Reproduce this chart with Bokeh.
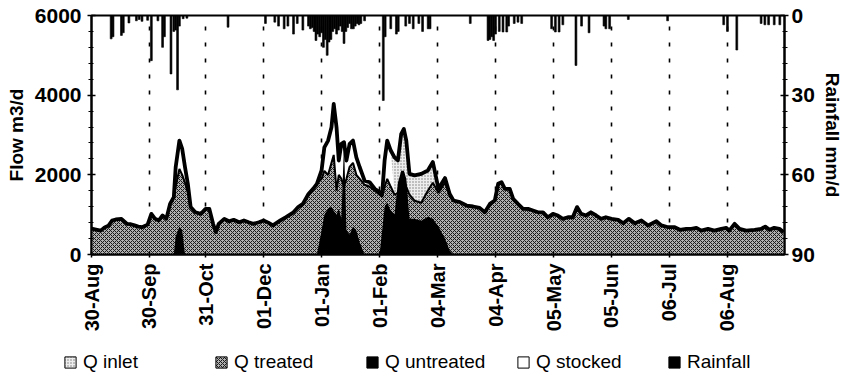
import math
from bokeh.plotting import figure
from bokeh.layouts import column
from bokeh.models import (ColumnDataSource, Range1d, LinearAxis, FixedTicker,
                          Legend, LegendItem, Plot)
from bokeh.embed import file_html
from bokeh.resources import INLINE

# ---------------- data (day index from 30-Aug) ----------------
day = [0, 3, 5, 7, 9, 11, 13, 16, 19, 21, 23, 25, 27, 30, 32, 34, 36, 38, 40, 42,
       44, 45, 47, 48.5, 50, 51.5, 53, 55.5, 58.5, 61, 63, 65, 66.5, 68, 71, 73.5,
       76, 79, 81.5, 84, 86.5, 89.5, 92, 94.5, 97, 101, 104, 108, 110.5, 113, 116,
       118.5, 120.5, 123, 124.5, 126.5, 128.3, 129.5, 131, 132.2, 133.6, 135, 136.3,
       138, 139.8, 141.6, 143.4, 146, 148.7, 151.4, 154, 155.4, 156.7, 158.1, 160,
       162, 163.8, 165.6, 167, 168.3, 170, 172.7, 176.3, 179.8, 182.5, 185.5, 189,
       191.5, 193.5, 197, 200.5, 204, 207.5, 210.3, 213, 215.6, 217.4, 219.2, 221,
       223.6, 225.4, 228, 230.7, 233.4, 236, 238.7, 241.4, 244, 246.7, 249.3, 252,
       254.7, 257.3, 259.6, 261.8, 264.4, 267, 269.8, 272.4, 275, 278, 281.6, 284.3,
       287.3, 290.5, 294, 297.6, 302, 304.7, 308.3, 311.8, 314.5, 318, 320.7, 323.4,
       326, 329.6, 333, 336.7, 339.4, 341, 343.8, 346.5, 350, 354.5, 358, 360.2,
       362.5, 365, 367.8, 370]

q_inlet = [650, 620, 600, 680, 720, 850, 880, 895, 770, 760, 730, 700, 685, 750, 1020, 895, 855, 980, 895, 1270,
           1440, 2190, 2860, 2650, 2190, 1775, 1190, 1060, 1020, 1145, 1145, 770, 560, 770, 895, 835,
           870, 810, 855, 810, 770, 810, 855, 800, 730, 855, 940, 1060, 1190, 1270, 1520,
           1650, 1775, 2110, 2690, 2860, 3195, 3780, 3195, 2360, 2780, 2820, 2360,
           2780, 2860, 2440, 2190, 1855, 1815, 1650, 1565, 1520, 2360, 2860, 2610,
           2440, 2360, 3030, 3150, 2860, 2025, 1985, 2025, 2110, 2320, 1650, 1920,
           1520, 1355, 1315, 1230, 1205, 1170, 1060, 1270, 1355, 1775, 1815, 1650,
           1650, 1400, 1270, 1145, 1145, 1105, 1060, 1060, 935, 1020, 980, 895,
           935, 935, 1190, 1020, 980, 1060, 980, 895, 935, 895, 870, 785,
           895, 785, 855, 730, 835, 730, 685, 685, 620, 645, 645, 670,
           600, 645, 600, 645, 670, 600, 770, 645, 600, 620, 645, 700,
           620, 670, 645, 560]

q_treated = [650, 620, 600, 680, 720, 850, 880, 895, 770, 760, 730, 700, 685, 750, 1020, 895, 855, 980, 895, 1270,
             1440, 1700, 2150, 2000, 1800, 1550, 1190, 1060, 1020, 1145, 1145, 770, 560, 770, 895, 835,
             870, 810, 855, 810, 770, 810, 855, 800, 730, 855, 940, 1060, 1190, 1270, 1520,
             1650, 1775, 1900, 2100, 2000, 2300, 2500, 1600, 2000, 1900, 1700, 1900,
             2200, 2300, 2000, 1900, 1750, 1700, 1600, 1500, 1450, 1700, 1900, 1700,
             1500, 1550, 1800, 1900, 1700, 1500, 1350, 1300, 1600, 1800, 1550, 1800,
             1500, 1355, 1315, 1230, 1205, 1170, 1060, 1270, 1355, 1775, 1815, 1650,
             1650, 1400, 1270, 1145, 1145, 1105, 1060, 1060, 935, 1020, 980, 895,
             935, 935, 1190, 1020, 980, 1060, 980, 895, 935, 895, 870, 785,
             895, 785, 855, 730, 835, 730, 685, 685, 620, 645, 645, 670,
             600, 645, 600, 645, 670, 600, 770, 645, 600, 620, 645, 700,
             620, 670, 645, 560]

q_untreated = [0, 0, 0, 0, 0, 0, 0, 0, 0, 0, 0, 0, 0, 0, 0, 0, 0, 0, 0, 0,
               0, 450, 700, 600, 0, 0, 0, 0, 0, 0, 0, 0, 0, 0, 0, 0,
               0, 0, 0, 0, 0, 0, 0, 0, 0, 0, 0, 0, 0, 0, 0,
               0, 0, 600, 1000, 1150, 1200, 1100, 1000, 1150, 900, 2800, 600,
               500, 700, 600, 300, 0, 0, 0, 0, 600, 1200, 1300, 1100,
               1000, 1800, 2100, 2100, 1900, 900, 900, 850, 950, 900, 700, 400,
               100, 0, 0, 0, 0, 0, 0, 0, 0, 0, 0, 0,
               0, 0, 0, 0, 0, 0, 0, 0, 0, 0, 0, 0,
               0, 0, 0, 0, 0, 0, 0, 0, 0, 0, 0, 0,
               0, 0, 0, 0, 0, 0, 0, 0, 0, 0, 0, 0,
               0, 0, 0, 0, 0, 0, 0, 0, 0, 0, 0, 0,
               0, 0, 0, 0]

q_stocked = [0, 0, 0, 0, 0, 0, 0, 0, 0, 0, 0, 0, 0, 0, 0, 0, 0, 0, 0, 0,
             0, 2190, 2860, 2650, 2190, 1700, 0, 0, 0, 0, 0, 0, 0, 0, 0, 0,
             0, 0, 0, 0, 0, 0, 0, 0, 0, 0, 0, 0, 0, 0, 0,
             0, 0, 2110, 2690, 2860, 3195, 3780, 3195, 2360, 2780, 2820, 2360,
             2780, 2860, 2440, 2190, 1855, 0, 0, 0, 1520, 2360, 2860, 2610,
             1500, 0, 0, 0, 0, 0, 0, 0, 0, 0, 0, 0,
             0, 0, 0, 0, 0, 0, 0, 0, 0, 0, 0, 0,
             0, 0, 0, 0, 0, 0, 0, 0, 0, 0, 0, 0,
             0, 0, 0, 0, 0, 0, 0, 0, 0, 0, 0, 0,
             0, 0, 0, 0, 0, 0, 0, 0, 0, 0, 0, 0,
             0, 0, 0, 0, 0, 0, 0, 0, 0, 0, 0, 0,
             0, 0, 0, 0]

rain_day = [10.5, 11.5, 16, 17, 20, 24, 25.5, 27, 30, 32, 35.5, 38, 39, 42.5, 44, 45, 46, 47, 49, 51,
            73, 93, 98, 100, 103, 105, 108, 110, 113, 116, 117, 118, 119, 120, 121, 122, 123, 124,
            125, 126, 127, 128, 129, 130, 131, 132, 133, 134, 135, 136, 137, 138, 139, 140, 141,
            142, 143, 144, 146, 156, 157, 160, 163, 164, 168, 170, 172, 175, 177, 180, 181,
            202.5, 212, 213, 214, 215, 216, 218, 220, 222, 223, 226, 228, 230, 246, 248, 250, 252,
            259, 262, 266, 274, 275, 277, 287, 308, 338, 340, 345, 358, 360, 362, 365, 368]
rain_mm = [8.8, 8.0, 7.5, 6.5, 2.8, 2.0, 1.5, 2.2, 1.8, 17.0, 2.0, 12.0, 8.0, 22.0, 6.0, 5.5, 28.0, 4.0, 1.2, 1.0,
           4.4, 3.0, 2.5, 4.0, 5.0, 4.0, 7.0, 3.0, 5.5, 4.0, 5.0, 4.5, 6.0, 9.4, 7.0, 8.0, 6.5, 12.0,
           9.0, 15.0, 10.0, 9.0, 6.0, 5.0, 7.0, 5.5, 4.0, 6.0, 10.5, 6.0, 4.5, 3.0, 5.0, 5.0, 4.0,
           3.0, 3.5, 3.0, 2.0, 32.0, 8.0, 5.0, 7.0, 6.0, 4.0, 3.0, 5.0, 3.0, 6.0, 5.0, 5.0,
           3.0, 9.4, 9.0, 8.0, 9.4, 7.0, 6.0, 6.2, 6.2, 4.0, 3.0, 2.5, 3.0, 5.0, 6.2, 6.2, 3.5,
           18.8, 4.0, 6.5, 4.0, 5.0, 5.0, 1.5, 2.0, 3.5, 6.0, 13.0, 3.0, 3.5, 3.5, 3.5, 3.5]

tick_days = [0, 31, 61, 92, 123, 154, 185, 216, 247, 278, 309, 340]
tick_labels = ["30-Aug", "30-Sep", "31-Oct", "01-Dec", "01-Jan", "01-Feb",
               "04-Mar", "04-Apr", "05-May", "05-Jun", "06-Jul", "06-Aug"]
flow_ticks = [0, 2000, 4000, 6000]
rain_ticks = [0, 30, 60, 90]
legend_labels = ["Q inlet", "Q treated", "Q untreated", "Q stocked", "Rainfall"]

# ---------------- main figure ----------------
FONT = "Liberation Sans"
CAN_UNALIGN = "frame_align" in Plot.properties()

src = ColumnDataSource(dict(day=day, inlet=q_inlet, treated=q_treated,
                            untreated=q_untreated, stocked=q_stocked,
                            zero=[0] * len(day)))
rsrc = ColumnDataSource(dict(x=rain_day, top=rain_mm))

p = figure(width=845, height=340, output_backend="svg", toolbar_location=None,
           x_range=Range1d(0, 370.5), y_range=Range1d(0, 6000),
           min_border_left=91, min_border_right=58, min_border_top=15,
           min_border_bottom=86)
if CAN_UNALIGN:
    p.frame_align = False
p.extra_y_ranges = {"rain": Range1d(90, 0)}
p.background_fill_color = "white"
p.border_fill_color = "white"
p.outline_line_color = "black"
p.outline_line_width = 2
p.ygrid.visible = False
p.xgrid.ticker = FixedTicker(ticks=tick_days)
p.xgrid.grid_line_color = "black"
p.xgrid.grid_line_width = 1.6
p.xgrid.grid_line_dash = "4 12"

inlet_kw = dict(fill_color="#eeeeee", hatch_pattern=".", hatch_scale=3,
                hatch_color="#777777", hatch_weight=1)
treated_kw = dict(fill_color="#b0b0b0", hatch_pattern="x", hatch_scale=4,
                  hatch_color="#1a1a1a", hatch_weight=1)
p.varea(x="day", y1="zero", y2="inlet", source=src, **inlet_kw)
p.varea(x="day", y1="zero", y2="stocked", source=src, fill_color="white")
p.varea(x="day", y1="zero", y2="treated", source=src, **treated_kw)
p.varea(x="day", y1="zero", y2="untreated", source=src, fill_color="black")
p.line(x="day", y="treated", source=src, line_color="black", line_width=2)
p.line(x="day", y="inlet", source=src, line_color="black", line_width=3.8,
       line_join="round")

# rainfall bars hanging from the top
p.vbar(x="x", top="top", bottom=0, width=1.0, source=rsrc, y_range_name="rain",
       fill_color="black", line_color="black", line_width=0.6)


def style_axis(ax):
    ax.axis_line_color = "black"
    ax.axis_line_width = 2
    ax.major_tick_line_color = "black"
    ax.major_tick_line_width = 1.5
    ax.minor_tick_line_color = "black"
    ax.major_tick_in = 4
    ax.major_tick_out = 4
    ax.minor_tick_in = 2
    ax.minor_tick_out = 3
    ax.major_label_text_font = FONT
    ax.major_label_text_font_style = "bold"
    ax.major_label_text_font_size = "21px"
    ax.major_label_text_color = "black"
    ax.axis_label_text_font = FONT
    ax.axis_label_text_font_style = "bold"
    ax.axis_label_text_font_size = "19px"
    ax.axis_label_text_color = "black"


yl = p.yaxis[0]
style_axis(yl)
yl.ticker = FixedTicker(ticks=flow_ticks, minor_ticks=list(range(0, 6001, 400)))
yl.axis_label = "Flow m3/d"
yl.major_label_standoff = 6
yl.axis_label_standoff = 5

xa = p.xaxis[0]
style_axis(xa)
xa.ticker = FixedTicker(ticks=tick_days, minor_ticks=[])
xa.major_label_overrides = {d: l for d, l in zip(tick_days, tick_labels)}
xa.major_label_orientation = math.pi / 2
xa.major_label_text_font_size = "20px"
xa.major_tick_in = 3
xa.major_tick_out = 3
xa.major_label_standoff = 6

yr = LinearAxis(y_range_name="rain", axis_label="Rainfall mm/d")
style_axis(yr)
yr.ticker = FixedTicker(ticks=rain_ticks, minor_ticks=list(range(0, 91, 6)))
yr.major_label_standoff = 3
yr.axis_label_standoff = 4
p.add_layout(yr, "right")

# ---------------- legend strip ----------------
lf_left = 0 if CAN_UNALIGN else 91
lf = figure(width=845, height=40, output_backend="svg", toolbar_location=None,
            x_range=Range1d(0, 1), y_range=Range1d(0, 1),
            x_axis_location=None, y_axis_location=None,
            min_border_left=lf_left, min_border_right=0 if CAN_UNALIGN else 58,
            min_border_top=0, min_border_bottom=0)
if CAN_UNALIGN:
    lf.frame_align = False
lf.grid.visible = False
lf.outline_line_color = None
lf.background_fill_color = "white"
lf.border_fill_color = "white"


def swatch(**kw):
    # a tiny quad outside the visible range: only its legend swatch shows
    return lf.quad(left=[5], right=[6], top=[5], bottom=[4], line_color="black",
                   line_width=1, **kw)


styles = [inlet_kw, treated_kw, dict(fill_color="black"),
          dict(fill_color="white"), dict(fill_color="black")]
items = [LegendItem(label=lab, renderers=[swatch(**st)])
         for lab, st in zip(legend_labels, styles)]
leg = Legend(items=items, orientation="horizontal",
             location=(63 - lf_left if CAN_UNALIGN else 2, 7),
             glyph_width=14, glyph_height=14, label_standoff=6, label_width=105,
             spacing=26, padding=0, margin=0, border_line_color=None,
             background_fill_alpha=0, label_text_font=FONT,
             label_text_font_size="19px", label_text_color="black")
lf.add_layout(leg, "center")

layout = column(p, lf, spacing=0)
open("out.html", "w").write(file_html(layout, INLINE))
